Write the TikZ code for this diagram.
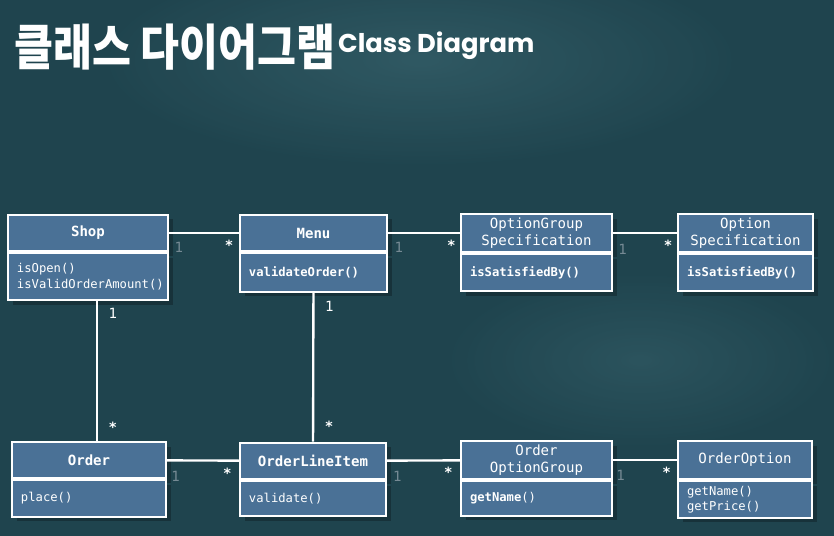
\documentclass[tikz,border=0pt]{standalone}
\usepackage{fontspec}
\setmonofont{DejaVu Sans Mono}
\newfontfamily\krfont{Noto Sans CJK KR}
\newfontfamily\latinfont{Poppins}
\usetikzlibrary{calc, positioning, shadows}
\definecolor{BoardColour}{RGB}{31,68,78}
\definecolor{BoardLight}{RGB}{52,94,104}
\definecolor{BoxColour}{RGB}{74,113,150}
\definecolor{oneGrey}{RGB}{118,138,148}

\begin{document}
\begin{tikzpicture}[x=0.03cm, y=-0.03cm,
  head/.style={draw=white, line width=1.8pt, fill=BoxColour, text=white,
    font=\ttfamily\fontsize{12}{14}\selectfont, align=center, inner sep=0pt,
    drop shadow={shadow xshift=4pt, shadow yshift=-4pt, fill=black, opacity=0.25}},
  body/.style={draw=white, line width=1.8pt, fill=BoxColour, text=white,
    font=\ttfamily\fontsize{10.4}{13}\selectfont, align=left, inner xsep=0.27cm, inner ysep=0pt,
    drop shadow={shadow xshift=4pt, shadow yshift=-4pt, fill=black, opacity=0.25}},
  link/.style={draw=white, line width=2pt},
  one/.style={text=oneGrey, font=\ttfamily\fontsize{12}{12}\selectfont, inner sep=1pt},
  many/.style={text=white, font=\ttfamily\bfseries\fontsize{12}{12}\selectfont, inner sep=1pt}]
  % chalkboard
  \useasboundingbox (0,0) rectangle (834,536);
  \fill[BoardColour] (0,0) rectangle (834,536);
  \shade[inner color=BoardLight, outer color=BoardColour, opacity=0.8] (420,60) ellipse (330 and 110);
  \shade[inner color=BoardLight, outer color=BoardColour, opacity=0.6] (640,360) ellipse (200 and 90);

  % title
  \node[anchor=base west, text=white, inner sep=0pt, xscale=0.86] (title) at (14,66)
    {\krfont\bfseries\fontsize{42}{42}\selectfont 클래스 다이어그램};
  \node[anchor=base west, text=white, inner sep=0pt] (subtitle) at (338,53)
    {\latinfont\bfseries\fontsize{22}{22}\selectfont Class Diagram};

  % top row
  \node[head, minimum width=4.8cm, minimum height=1.1cm] (shop) at (88,233) {\bfseries Shop};
  \node[body, text width=4.26cm, minimum height=1.4cm, below=0pt of shop] (shop-b)
    {isOpen()\\isValidOrderAmount()};
  \node[head, minimum width=4.41cm, minimum height=1.1cm] (menu) at (313.5,233) {\bfseries Menu};
  \node[body, text width=3.87cm, minimum height=1.15cm, below=0pt of menu] (menu-b)
    {\bfseries validateOrder()};
  \node[head, minimum width=4.53cm, minimum height=1.14cm] (ogs) at (536.5,233) {OptionGroup\\Specification};
  \node[body, text width=3.99cm, minimum height=1.12cm, below=0pt of ogs] (ogs-b)
    {\bfseries isSatisfiedBy()};
  \node[head, minimum width=4.05cm, minimum height=1.14cm] (os) at (745.5,233) {Option\\Specification};
  \node[body, text width=3.51cm, minimum height=1.12cm, below=0pt of os] (os-b)
    {\bfseries isSatisfiedBy()};

  % bottom row
  \node[head, minimum width=4.62cm, minimum height=1.08cm] (order) at (89,460) {\bfseries Order};
  \node[body, text width=4.08cm, minimum height=1.1cm, below=0pt of order] (order-b) {place()};
  \node[head, minimum width=4.38cm, minimum height=1.1cm] (oli) at (313,461) {\bfseries OrderLineItem};
  \node[body, text width=3.84cm, minimum height=1.04cm, below=0pt of oli] (oli-b) {validate()};
  \node[head, minimum width=4.53cm, minimum height=1.14cm] (oog) at (536.5,460) {Order\\OptionGroup};
  \node[body, text width=3.99cm, minimum height=1.04cm, below=0pt of oog] (oog-b)
    {\textbf{getName}()};
  \node[head, minimum width=4.02cm, minimum height=1.14cm] (oo) at (745,460) {OrderOption};
  \node[body, text width=3.48cm, minimum height=1.1cm, below=0pt of oo] (oo-b)
    {getName()\\getPrice()};

  % associations
  \draw[link] (shop) -- node[one, pos=0.14, below=6pt] (shop-1) {1}
    node[many, pos=0.86, below=4pt] (menu-m) {*} (menu);
  \draw[link] (menu) -- node[one, pos=0.15, below=6pt] (menu-1) {1}
    node[many, pos=0.88, below=4pt] (ogs-m) {*} (ogs);
  \draw[link] (ogs) -- node[one, pos=0.15, below=8pt] (ogs-1) {1}
    node[many, pos=0.86, below=4pt] (os-m) {*} (os);
  \draw[link] (order) -- node[one, pos=0.12, below=7pt] (order-1) {1}
    node[many, pos=0.84, below=4pt] (oli-m) {*} (oli);
  \draw[link] (oli) -- node[one, pos=0.14, below=7pt] (oli-1) {1}
    node[many, pos=0.84, below=4pt] (oog-m) {*} (oog);
  \draw[link] (oog) -- node[one, pos=0.12, below=7pt] (oog-1) {1}
    node[many, pos=0.84, below=4pt] (oo-m) {*} (oo);
  \coordinate (shop-s) at ($(shop-b.south)+(9,0)$);
  \draw[link] (shop-s) -- node[one, text=white, pos=0.09, right=8pt] (shop-o1) {1}
    node[many, pos=0.9, right=8pt] (order-m) {*} (shop-s |- order.north);
  \draw[link] (menu-b) -- node[one, text=white, pos=0.09, right=8pt] (menu-o1) {1}
    node[many, pos=0.9, right=8pt] (oli-m2) {*} (oli);
\end{tikzpicture}
\end{document}
